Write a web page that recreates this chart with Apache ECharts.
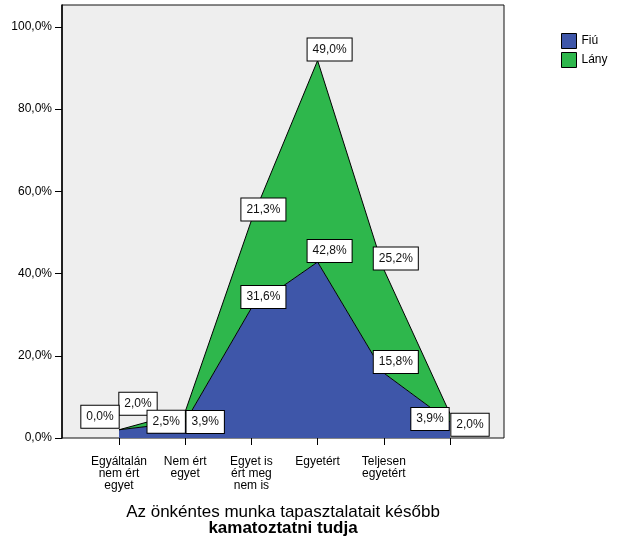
<!DOCTYPE html>
<html><head><meta charset="utf-8">
<script src="https://cdn.jsdelivr.net/npm/echarts@6/dist/echarts.min.js"></script>
<style>html,body{margin:0;padding:0;background:#fff}#c{width:620px;height:540px}</style>
</head><body><div id="c"></div>
<script>
const categories = ['Egyáltalán\nnem ért\negyet', 'Nem ért\negyet', 'Egyet is\nért meg\nnem is', 'Egyetért', 'Teljesen\negyetért', ''];
const fiu = [2.0, 3.9, 31.6, 42.8, 15.8, 3.9];
const lany = [0.0, 2.5, 21.3, 49.0, 25.2, 2.0];
const yTicks = [0, 20, 40, 60, 80, 100];
const seriesNames = ['Fiú', 'Lány'];
const xTitle = 'Az önkéntes munka tapasztalatait később';
const xTitleBold = 'kamatoztatni tudja';

const FONT = '"Liberation Sans", Arial, sans-serif';
const colors = ['#3E56A9', '#2EB74C'];
const Y_MAX = 105.3;
const pct = v => v.toFixed(1).replace('.', ',') + '%';
// label box offsets (centre relative to point); default + overrides
const defaultOffset = [12, -11];
const labelOffsets = [
  {0: [19, -26], 1: [20, 0], 5: [-20, -3]},
  {0: [-19, -13], 1: [-19, 10], 5: [20, 11]}
];

function makeSeries(vals, si) {
  return {
    name: seriesNames[si],
    type: 'line',
    stack: 'total',
    xAxisIndex: 1, yAxisIndex: 1,
    data: vals.map((v, i) => ({
      value: v,
      label: {offset: labelOffsets[si][i] || defaultOffset}
    })),
    symbol: 'circle',
    symbolSize: 0,
    showSymbol: true,
    itemStyle: {color: colors[si]},
    lineStyle: {color: '#000', width: 1},
    areaStyle: {color: colors[si], opacity: 1},
    label: {
      show: true,
      position: 'inside',
      formatter: p => pct(p.value),
      fontFamily: FONT, fontSize: 12, color: '#111', lineHeight: 14,
      backgroundColor: '#fff', borderColor: '#000', borderWidth: 1,
      padding: [4, 5, 4, 5]
    },
    emphasis: {disabled: true},
    animation: false
  };
}

const chart = echarts.init(document.getElementById('c'), null, {renderer: 'canvas'});
chart.setOption({
  animation: false,
  grid: [
    {left: 62, right: 116, top: 5, bottom: 102, show: true,
     backgroundColor: '#eeeeee', borderColor: '#111', borderWidth: 1},
    {left: 119, right: 170, top: 5, bottom: 102}
  ],
  xAxis: [
    {gridIndex: 0, type: 'value', min: 0, max: 1, show: false},
    {
      gridIndex: 1, type: 'category', data: categories, boundaryGap: false,
      splitLine: {show: false},
      axisLine: {show: false},
      axisTick: {show: true, length: 7, interval: 0, lineStyle: {color: '#000'}},
      axisLabel: {interval: 0, fontFamily: FONT, fontSize: 12, lineHeight: 12,
                  color: '#000', margin: 18}
    }
  ],
  yAxis: [
    {
      gridIndex: 0, type: 'value', min: 0, max: Y_MAX,
      splitLine: {show: false},
      axisLine: {show: true, onZero: false, lineStyle: {color: '#000', width: 1.5}},
      axisTick: {show: true, customValues: yTicks, length: 7, lineStyle: {color: '#000'}},
      axisLabel: {customValues: yTicks, formatter: v => pct(v),
                  fontFamily: FONT, fontSize: 12, color: '#000', margin: 10}
    },
    {gridIndex: 1, type: 'value', min: 0, max: Y_MAX, show: false}
  ],
  legend: {
    orient: 'vertical', left: 561, top: 33, padding: 0,
    itemWidth: 15, itemHeight: 15, itemGap: 3,
    textStyle: {fontFamily: FONT, fontSize: 12, color: '#000'},
    data: seriesNames.map((n, i) => ({name: n, icon: 'rect',
      itemStyle: {color: colors[i], borderColor: '#000', borderWidth: 1}}))
  },
  graphic: [{
    type: 'text', x: 283, y: 504,
    style: {
      text: '{a|' + xTitle + '}\n{b|' + xTitleBold + '}',
      textAlign: 'center',
      rich: {
        a: {fontFamily: FONT, fontSize: 17, lineHeight: 16, fill: '#000', align: 'center'},
        b: {fontFamily: FONT, fontSize: 17, lineHeight: 16, fontWeight: 'bold', fill: '#000', align: 'center'}
      }
    }
  }],
  series: [makeSeries(fiu, 0), makeSeries(lany, 1)]
});
</script>
</body></html>
